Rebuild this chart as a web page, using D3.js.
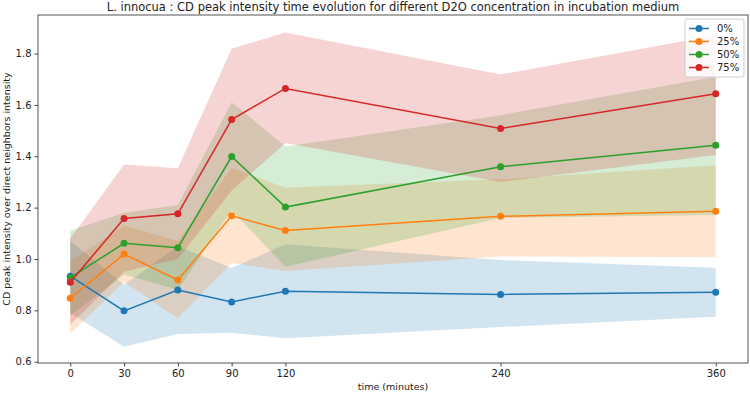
<!DOCTYPE html>
<html lang="en">
<head>
    <meta charset="UTF-8">
    <title>L. innocua CD peak intensity</title>
    <script src="https://d3js.org/d3.v7.min.js"></script>
    <style>
        body { margin: 0; background: #fff; }
        text { font-family: "DejaVu Sans", sans-serif; fill: #222; }
    </style>
</head>
<body>
    <svg width="750" height="394"></svg>
    <script>
        const width = 750, height = 394;
        const margin = {top: 15, right: 2, bottom: 31, left: 38};

        // data
        const times = [0, 30, 60, 90, 120, 240, 360];
        const labels = ["0%", "25%", "50%", "75%"];
        const colors = ["#1f77b4", "#ff7f0e", "#2ca02c", "#d62728"];

        const mean0 = [0.933, 0.798, 0.879, 0.833, 0.874, 0.862, 0.870];
        const low0  = [0.79, 0.658, 0.708, 0.713, 0.691, 0.735, 0.775];
        const high0 = [1.07, 0.90, 1.05, 0.965, 1.057, 0.996, 0.966];

        const mean25 = [0.847, 1.019, 0.918, 1.168, 1.111, 1.166, 1.186];
        const low25  = [0.71, 0.91, 0.769, 0.985, 0.953, 1.01, 1.007];
        const high25 = [0.99, 1.13, 1.07, 1.354, 1.277, 1.31, 1.365];

        const mean50 = [0.927, 1.061, 1.044, 1.399, 1.202, 1.359, 1.443];
        const low50  = [0.78, 0.94, 0.88, 1.19, 0.97, 1.16, 1.171];
        const high50 = [1.11, 1.18, 1.21, 1.61, 1.438, 1.56, 1.71];

        const mean75 = [0.909, 1.158, 1.176, 1.543, 1.664, 1.508, 1.643];
        const low75  = [0.745, 0.95, 1.0, 1.267, 1.452, 1.30, 1.405];
        const high75 = [1.08, 1.368, 1.353, 1.819, 1.882, 1.718, 1.871];

        const yTicks = [0.6, 0.8, 1.0, 1.2, 1.4, 1.6, 1.8];

        const series = [
            {label: labels[0], color: colors[0], mean: mean0, low: low0, high: high0},
            {label: labels[1], color: colors[1], mean: mean25, low: low25, high: high25},
            {label: labels[2], color: colors[2], mean: mean50, low: low50, high: high50},
            {label: labels[3], color: colors[3], mean: mean75, low: low75, high: high75}
        ];

        const svg = d3.select("svg");

        const x = d3.scaleLinear().domain([-18, 378]).range([margin.left, width - margin.right]);
        const y = d3.scaleLinear().domain([0.595, 1.95]).range([height - margin.bottom, margin.top]);

        // bands first, lines on top (like matplotlib zorder)
        const area = d3.area()
            .x((d, i) => x(times[i]))
            .y0(d => y(d[0]))
            .y1(d => y(d[1]));

        series.forEach(s => {
            svg.append("path")
                .datum(s.low.map((v, i) => [v, s.high[i]]))
                .attr("d", area)
                .attr("fill", s.color)
                .attr("fill-opacity", 0.2);
        });

        const line = d3.line()
            .x((d, i) => x(times[i]))
            .y(d => y(d));

        series.forEach(s => {
            svg.append("path")
                .datum(s.mean)
                .attr("d", line)
                .attr("fill", "none")
                .attr("stroke", s.color)
                .attr("stroke-width", 1.5);
            svg.selectAll(null)
                .data(s.mean)
                .enter().append("circle")
                .attr("cx", (d, i) => x(times[i]))
                .attr("cy", d => y(d))
                .attr("r", 3.5)
                .attr("fill", s.color);
        });

        // axes
        const xAxis = svg.append("g")
            .attr("transform", `translate(0,${height - margin.bottom})`)
            .call(d3.axisBottom(x).tickValues(times).tickSize(3.5).tickPadding(3));
        const yAxis = svg.append("g")
            .attr("transform", `translate(${margin.left},0)`)
            .call(d3.axisLeft(y).tickValues(yTicks).tickSize(3.5).tickPadding(3).tickFormat(d3.format(".1f")));

        [xAxis, yAxis].forEach(g => {
            g.select(".domain").remove();
            g.selectAll("line").attr("stroke", "#444");
            g.selectAll("text").attr("font-size", 10).attr("fill", "#222")
                .attr("font-family", "DejaVu Sans, sans-serif");
        });

        // frame
        svg.append("rect")
            .attr("x", margin.left)
            .attr("y", margin.top)
            .attr("width", width - margin.left - margin.right)
            .attr("height", height - margin.top - margin.bottom)
            .attr("fill", "none")
            .attr("stroke", "#555")
            .attr("stroke-width", 1);

        // title and labels
        svg.append("text")
            .attr("x", (margin.left + width - margin.right) / 2)
            .attr("y", 11)
            .attr("text-anchor", "middle")
            .attr("font-size", 11.5)
            .text("L. innocua : CD peak intensity time evolution for different D2O concentration in incubation medium");

        svg.append("text")
            .attr("x", (margin.left + width - margin.right) / 2)
            .attr("y", 390)
            .attr("text-anchor", "middle")
            .attr("font-size", 9.5)
            .text("time (minutes)");

        svg.append("text")
            .attr("transform", `translate(10,${(margin.top + height - margin.bottom) / 2}) rotate(-90)`)
            .attr("text-anchor", "middle")
            .attr("font-size", 9.5)
            .text("CD peak intensity over direct neighbors intensity");

        // legend
        const legend = svg.append("g").attr("transform", "translate(685,19)");
        legend.append("rect")
            .attr("width", 59)
            .attr("height", 58)
            .attr("rx", 2)
            .attr("fill", "#fff")
            .attr("fill-opacity", 0.8)
            .attr("stroke", "#ccc");
        series.forEach((s, i) => {
            const g = legend.append("g").attr("transform", `translate(0,${9.5 + i * 13})`);
            g.append("line").attr("x1", 4).attr("x2", 24).attr("stroke", s.color).attr("stroke-width", 1.5);
            g.append("circle").attr("cx", 14).attr("r", 3.5).attr("fill", s.color);
            g.append("text").attr("x", 32).attr("y", 3.5).attr("font-size", 10).text(s.label);
        });
    </script>
</body>
</html>
